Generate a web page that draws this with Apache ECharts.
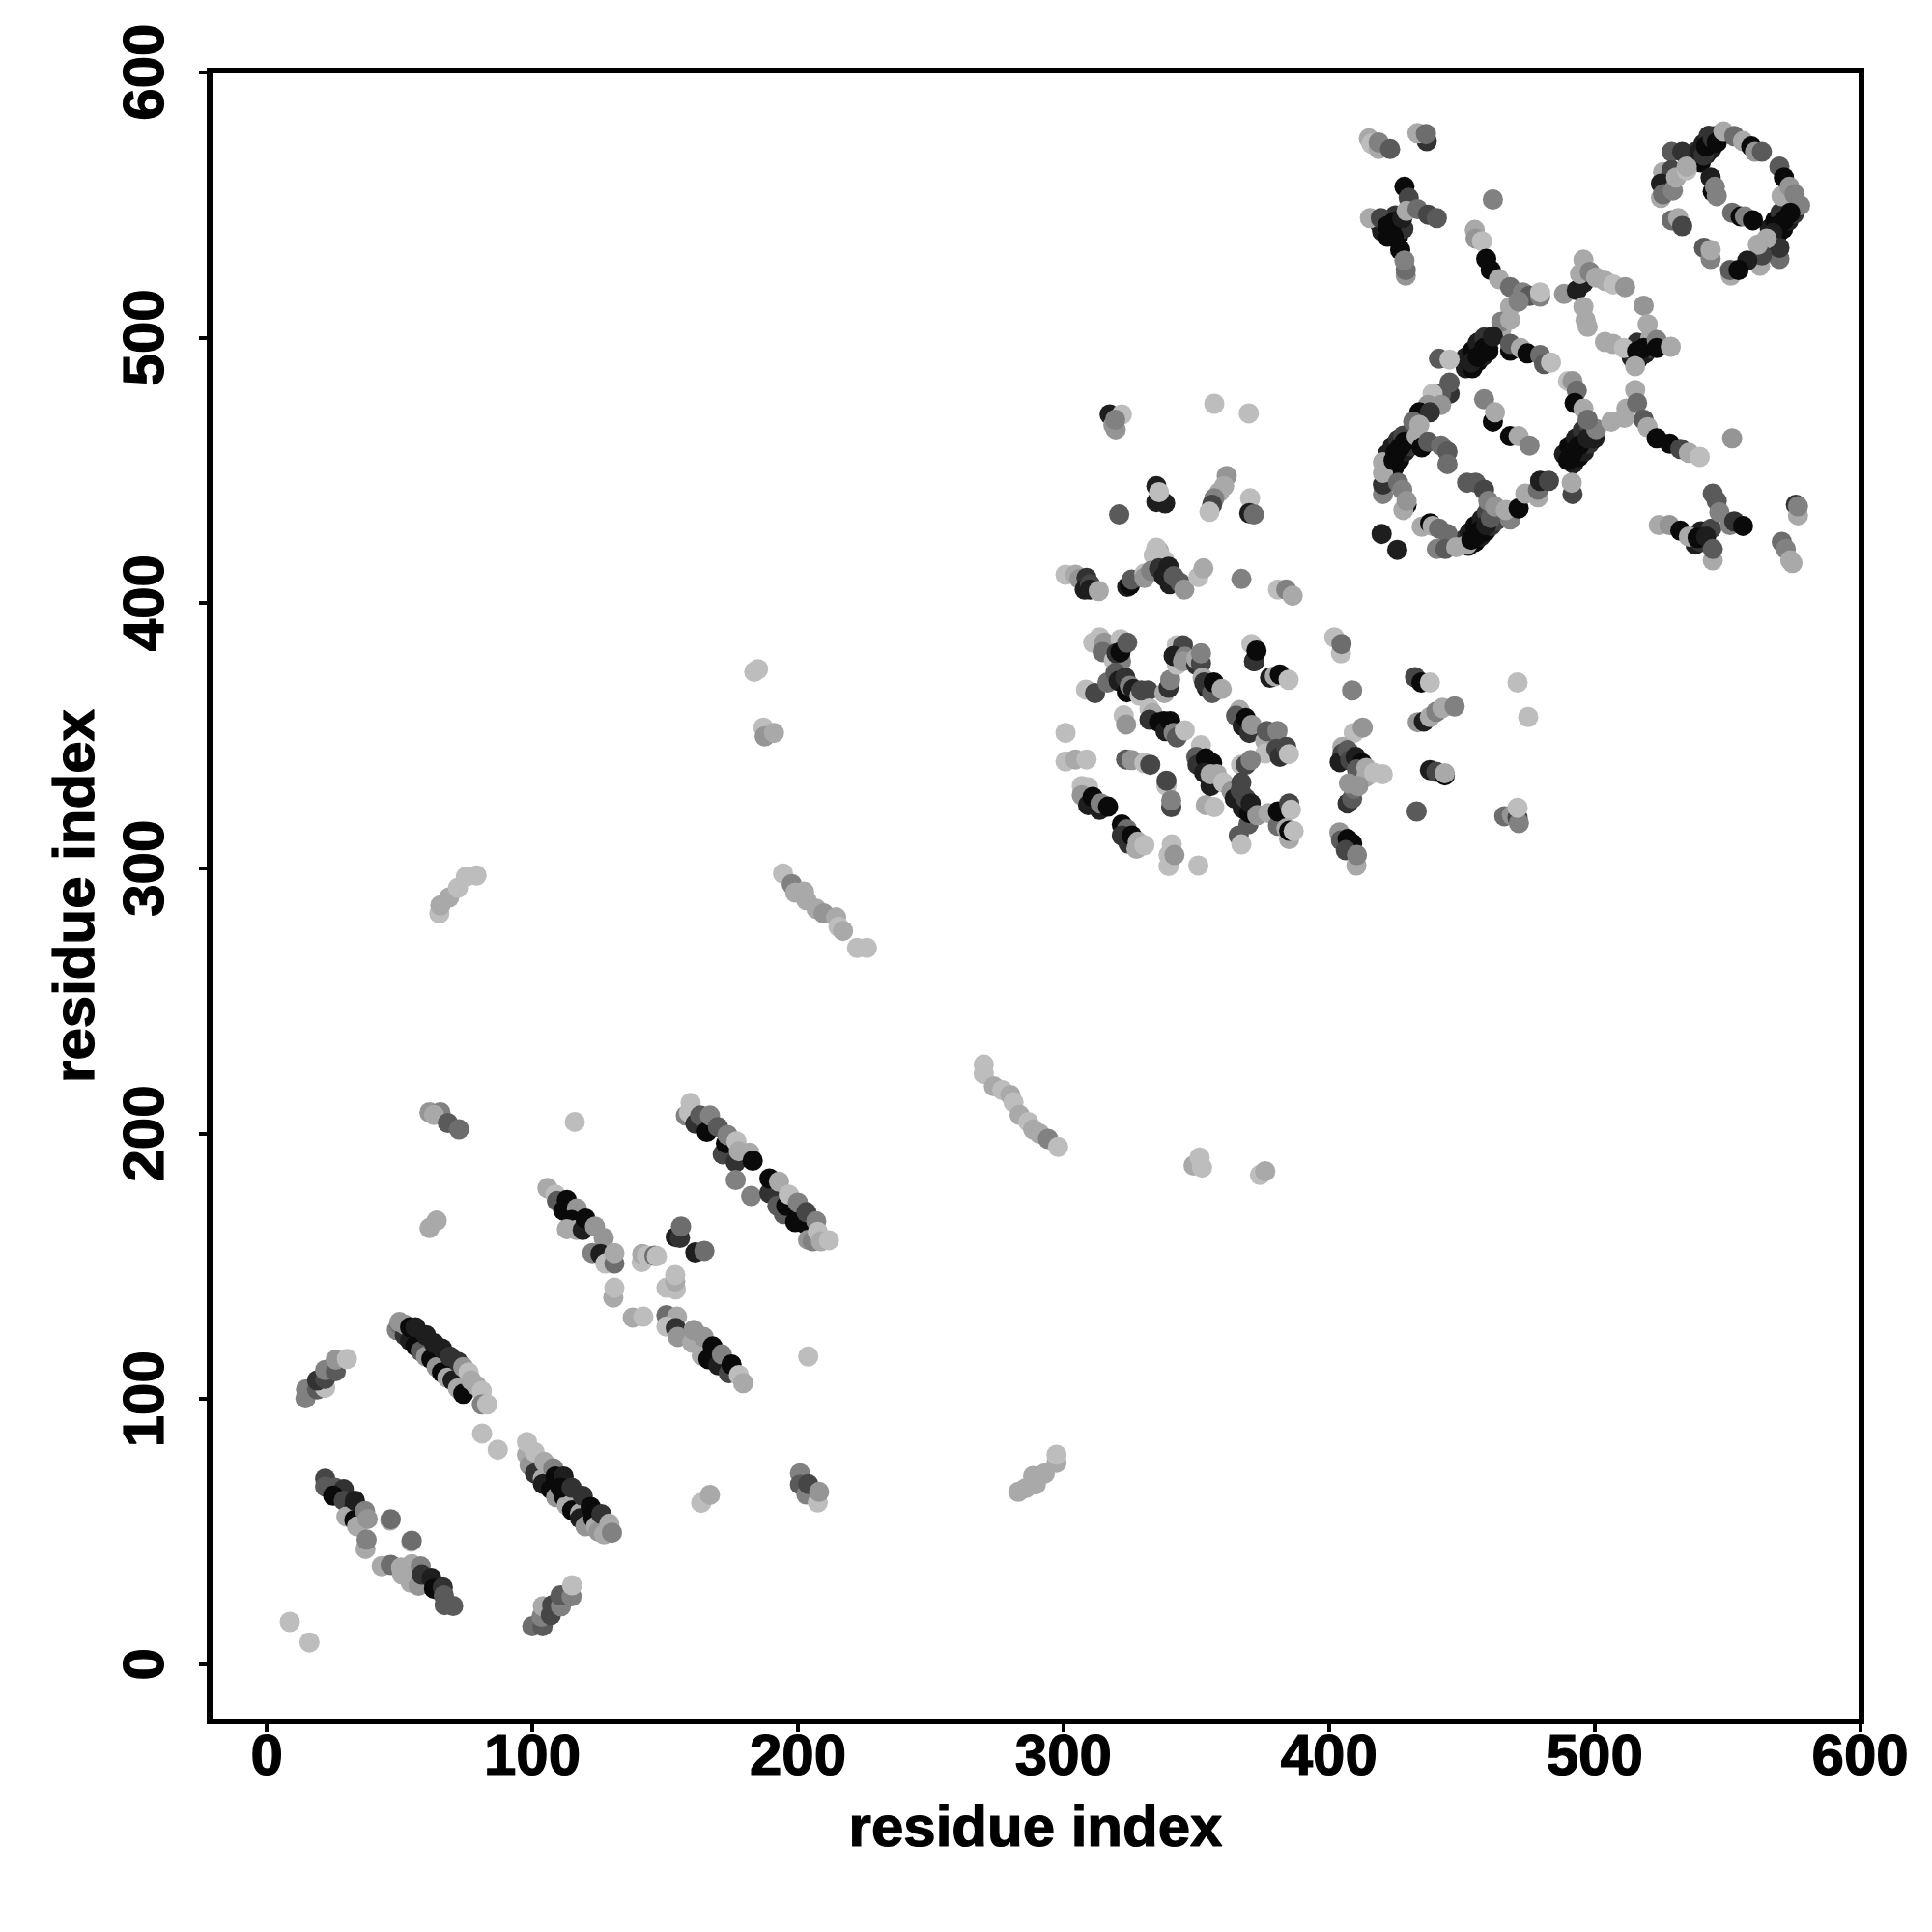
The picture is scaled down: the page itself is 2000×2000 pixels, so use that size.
<!DOCTYPE html>
<html><head><meta charset="utf-8">
<style>html,body{margin:0;padding:0;background:#fff}#c{width:2000px;height:2000px}</style>
<script src="https://cdn.jsdelivr.net/npm/echarts@6/dist/echarts.min.js"></script>
</head><body><div id="c"></div>
<script>
// [residue i, residue j, contact score 0 (weak) .. 9 (strong)]
const tickValues=[0,100,200,300,400,500,600];
const axisTitle="residue index";
const denseRidges=[[492,452.5,8],[494,455,9],[496,457,8],[498,460,7],[500,462,8],[488.5,456,8],[490.5,459,9],[493,462,8],[495.5,465,7],[498,467,6],[452.5,421.5,8],[455,423,9],[457,425,8],[459,427,9],[461,429,7],[463,431,6],[451,424,7],[453,426.5,8],[455,429,9],[457.5,431.5,8],[459.5,434,6],[422.5,451.5,8],[424.5,451,9],[426.5,454,9],[428.5,457,8],[430.5,459,7],[422,456,8],[424,459,8],[426,461.5,7],[428,463,6],[451.5,488.5,8],[454,488.5,9],[456,491,9],[458,493,8],[460,496,7],[451.5,492.5,8],[454,495,9],[456,498,8],[458.5,500,7],[514,492.5,8],[516.5,492,9],[519,494,8],[521,496,6],[513.5,495,7],[516,498,7],[566,537,8],[568.5,538,8],[571,541,9],[573,544,8],[575,546.5,7],[566,541,8],[568,544,9],[570,547,7],[537.5,566.5,8],[540,566,9],[542,569,8],[544,571,8],[546,576,7],[538,570,7],[541,573,8],[543,576,7],[420,540,8],[422,538,9],[424,541,8],[426,538,9],[419,543,8],[425,546,7],[426,542,9],[428,541,7],[538,422,8],[540,423,7],[542,427,8],[540,427,8],[544,428,6],[55,124,8],[58,122,9],[61,119,8],[64,116,9],[67,114,8],[70,111,9],[112,67,8],[115,63,9],[118,60,8],[121,57,9]];
const isolated=[[8.7,16,0],[16.1,8.3,0],[81.1,87,0],[87,80.9,0],[203.9,116,0],[116,204.4,0],[349,188,1],[351.3,191,0],[352.2,187.2,0],[374,184.4,0],[376,185.8,1],[471,370,0],[475,357,0],[356.8,475,0],[369.8,471.4,0],[321,433.3,5],[433,321.4,5],[461.7,552,3],[551.8,462,2],[419.8,426,8],[425.7,420,8]];
const stripeA=[[49,126,3],[50,128,4],[52,124,7],[54,122,8],[56,120,9],[58,118,5],[60,116,2],[62,115,9],[64,112,2],[66,110,9],[68,108,1],[70,107,8],[72,104,1],[74,102,9],[50,129,2],[52,128,2],[54,127,9],[56,127,8],[60,124,8],[63,121,8],[66,119,8],[69,116,7],[72,114,7],[74,112,2],[76,110,0],[77,107,1],[79,105,1],[81,103,0],[81,98,3],[83,98,0]];
const stripeB=[[14.6,100.3,3],[14.8,103.6,3],[19,103.6,5],[22,104.2,0],[19,107,7],[22,107.6,6],[22,110.9,3],[26,110.5,5],[26,114.8,2],[30.2,115.1,0]];
const stripeC=[[22,70,6],[22,67,5],[25.7,66.6,5],[29,66,7],[25,63.6,9],[29,61.7,6],[33,59.3,8],[30,55.7,1],[33,54.4,9],[34,52,1],[33.2,61.7,8],[37,57.8,3],[38,54.8,2],[46.5,54.2,1],[46.7,54.7,4],[54.4,46.2,0],[54.6,46.6,4],[37.2,43.5,1],[37.6,47,3]];
const stripeD=[[43.3,37,1],[46.7,37.5,4],[50.6,36.5,1],[51,33.8,1],[54.6,37.7,1],[54.2,30.8,1],[58,36.9,3],[57.2,29.6,2],[58.4,33.8,7],[62,32.6,8],[63,28.5,9],[66.3,29,7],[66.7,26,5],[67,22.3,5],[70.2,22,5]];
const stripeE=[[100,14.4,4],[103.9,14.4,5],[103.5,18,3],[104,21.9,1],[107,18.6,6],[107.5,22.3,6],[110.8,21.9,3],[110.6,26,5],[114.8,25.6,3],[115,29.8,0]];
const stripeF=[[98,79,1],[99,75,2],[101,72,7],[104,70,1],[104,68,8],[107,66,9],[109,63,2],[112,63,9],[113,60,1],[115,58,9],[118,57,1],[118,55,8],[120,52,2],[123,55,9],[124,52,1],[125,50,2],[127,49,1],[98,83.8,0],[100.9,80,0],[104.5,76.3,1],[107.9,73.9,3],[108.7,70.8,9],[111.8,70.8,8],[110.6,66.6,9],[114.8,66.6,7],[119,63.5,7],[122,59.3,9],[126,56.6,7],[129,53,1],[130,49.6,3]];
const stripeG=[[105.7,179.5,1],[108.7,177,0],[109.3,174.6,5],[113,175,9],[111.7,171,9],[116.8,171.8,2],[114.8,167.4,9],[113,164,1],[116.6,163.7,1],[119,163.7,8],[120,168,9],[123.6,165,2],[126.9,160.7,2],[122.6,155,3],[125.7,154.6,8],[127.5,151,0],[130.9,151,4],[130.9,155,1],[130.5,138.2,1],[130.9,141.9,0],[137.8,130.7,1],[141.8,131,0]];
const crossMid=[[141.2,151.6,0],[141.4,154.6,1],[143.2,154,0],[146,154,4],[146.9,153.8,0],[154,161,8],[155.6,160.7,7],[156,165,4],[161.4,155.2,8],[164.8,155.8,4],[150.5,141.9,0],[154,141.3,0],[153.8,144.3,1],[153.8,146.7,0]];
const stripeH=[[150.5,131.6,4],[154.5,131,1],[150.5,127.3,0],[154,126.7,7],[154.8,123.4,2],[160.2,121.2,1],[160.8,126,2],[163.8,116.4,1],[164.5,123.4,2],[166.3,115,9],[167.9,119.8,9],[170,112.7,8],[171.4,116.8,3],[174,109.7,6],[175,113,9],[177.8,109,0],[179.4,106,1]];
const stripeI=[[157.8,206.8,3],[159,208,0],[159.6,211.6,0],[161.4,203.7,7],[163.2,206.8,5],[165.7,200.7,9],[166.9,206.8,3],[169.9,202.5,5],[171.7,192.2,6],[172.9,196.4,9],[173.5,199.5,3],[176.6,189.2,7],[176.9,197,0],[177.8,193.4,1],[181.8,192.8,1],[183,189.8,9],[176.6,182.5,3],[182.4,176.5,3],[189.3,177.6,7],[189.3,183.1,9],[194.7,169.7,5],[192.3,172.8,5],[192.9,181.9,1],[195.6,172.8,9],[196.6,177,0],[199,166.7,9],[200,174,3],[202.6,166,9],[203.2,170.4,6],[203.8,160,2],[205.6,159.4,3],[206.9,167,3],[207.5,163,0],[208.7,159.4,1],[211.7,159.8,0]];
const smallLow=[[163.6,60.9,0],[166.9,63.9,1],[200.8,72,3],[200.8,67.8,5],[203.2,64,3],[203.9,68,6],[207.5,61,0],[208,65,2],[283,65,1],[285.8,66.4,1],[289.6,67.8,1],[288.6,71,1],[293,72,1],[297.4,76,1],[297.4,79,0]];
const smallUp=[[65,283,0],[65.4,286,1],[68.7,289,1],[72,292.6,0],[75,296.8,0],[79,297.3,0],[61.3,208,2],[65.4,208,3],[63,207,1],[68.2,204,5],[72.4,201.6,4],[61.3,164.4,1],[64,167.2,1],[183.6,374,0],[185,375,0],[187,353,0],[187.5,349.7,2],[191,351,1]];
const stripeJ=[[194.4,298,0],[197.7,294,3],[199,290.8,1],[202.3,291.2,1],[203.2,288,1],[207,284.7,1],[209.7,283,2],[214.4,281.5,1],[215.3,278,0],[217,276.4,1],[222.3,270,0],[226,270,0]];
const stripeK=[[270,226,0],[270,222.5,0],[273.8,217.8,1],[277,216.4,0],[280,214.6,1],[281.2,211.8,0],[283.5,207,1],[286.8,204.4,0],[288.6,201.6,1],[291,200,1],[294.2,198,3],[298,195,0]];
const mid410=[[300.8,410.6,0],[304.5,410.6,1],[306,409,2],[308.7,409.4,7],[308,405,8],[310,407,6],[310,405,8],[313.3,404.5,1],[324,406,8],[325,406.6,9],[325.7,408.8,5],[330.5,411,0],[330.5,409.4,2],[334,418,0],[336,419.5,1],[338,416,0],[333,412,3],[336.4,417.6,0],[335,420.8,0],[336,413,7],[339.6,413.6,8],[337.8,410,8],[340,407,8],[341.5,410,5],[343.9,407.6,5],[345.5,405,2],[350.8,409.7,0],[352.7,413,1],[367,409,3],[380.8,405,0],[383.9,405,3],[386.3,402.7,1]];
const mid385=[[311.2,385,0],[313.6,387,0],[315.4,385,2],[314.8,381.5,4],[321.5,386.3,0],[319,378.4,0],[321.7,378,3],[320,381,7],[321.5,381.5,9],[324,385,5],[308.5,367.3,0],[311.9,366,6],[316.6,370,4],[319.6,373.6,5],[320.8,370.6,8],[323.3,371.8,7],[323.9,366.3,9],[325,368.7,3],[326.3,367.5,8],[328.7,365,0],[329.3,367,6],[331.8,367,6],[338,366,1],[339.6,368,7],[340.2,371,3]];
const mid375=[[342.7,376.6,0],[342.7,384,0],[345,384,6],[341.5,380,8],[345.7,379.7,3],[345,378,2],[350,376.6,7],[350,379,1],[351.8,377.2,6],[351.8,381,3],[352.4,371.8,1],[354,368,8],[353,370,7],[356,366,5],[356.6,370,9],[359.6,367.5,1],[370.8,384.5,0],[371.8,378,9],[371.8,378,7],[372.7,382,9],[377.8,371.8,8],[379.6,372.4,1],[381.5,373,9],[384.8,371,0],[402,387,0],[404.5,381,0],[404.7,384.5,4],[408.7,367,3],[409.3,351,0],[412.7,353,2],[432.4,372,6],[434.8,370,9],[438,370,0]];
const mid345=[[300.8,351,0],[300.8,340.2,0],[304.5,341,1],[308.7,341,0],[322.7,357.6,0],[323.6,354.2,2],[323.6,341,5],[325.7,340.8,2],[330.5,339.6,0],[332.7,339,6],[338.8,331,0],[338.8,333,6],[340.6,323,6],[340.6,325.6,3],[353.6,323.8,1],[356.8,323,0],[340.8,309,0],[339.6,300.8,0],[339.6,305,0],[341.8,305,2],[350.8,301,0]];
const mid325=[[306.9,331,0],[309.3,330.5,0],[306.9,327.5,2],[309.3,323.8,8],[311,326.9,9],[313.6,322,8],[314,324.4,3],[316.8,323.2,9],[322,316.5,9],[323.9,314.7,4],[322,312.3,7],[324.5,309.3,7],[325.7,312.3,9],[328,310,1],[327.5,307.4,1],[330.5,308.7,0]];
const mid355=[[332.4,360.2,0],[333.6,358.4,1],[332.4,356,7],[336,355,9],[337.8,355.4,9],[338.4,351.7,8],[340.2,355.4,9],[341.5,351,3],[342.7,349.3,5],[345.7,352,0],[366.3,359.6,1],[365,357.5,5],[367.5,353.6,8],[368.7,356.6,9],[370,351,7],[370.9,354,2],[376,348,1],[376,343.2,0],[376.6,351.7,5],[380.6,351.7,3],[380.2,345,6],[381.5,342,7],[383.9,345.7,6],[384.9,343,0]];
const mid340=[[351.8,346.3,0],[350,342,5],[350.5,339,7],[353.6,341.4,9],[356,339.6,9],[353,336,8],[355.4,331,8],[355.4,335.4,1],[357.8,335.4,1],[360.2,332.3,0],[366.9,339,0],[368.7,339,6],[370.5,340.8,3]];
const mid325b=[[363.3,329,2],[364.5,326.3,8],[366.7,329.3,6],[367,332.3,6],[369.7,316.6,5],[367.5,322.6,8],[368.7,326.3,6],[370,320.8,9],[370.5,324.4,8],[373,320,2],[377.2,320.8,1],[380.8,316,4],[380.8,321.4,9],[385,324.4,6],[385.7,322,0],[384,315,1],[385,311,1],[385,314.1,9],[386.7,314,0],[366,312.3,5],[367,309,0]];
const mid340r=[[405,345.7,1],[405,343.2,6],[404,340,8],[407,344.5,5],[408,340.8,6],[410,342,8],[412.4,339.6,9],[410.5,337.2,5],[414,337.8,1],[414,334.5,1],[417,336,0],[420.2,335.4,0],[407,324.4,7],[408.7,326.3,5],[409.3,329.9,4],[407.5,332,2],[411,331,2]];
const mid310r=[[403.9,313.5,2],[404.5,310.5,5],[407,311,9],[408.7,309.3,9],[406.3,306.8,6],[410.3,301,1],[410.5,305,3]];
const mid355r=[[433.4,355,2],[435.7,355.3,8],[438,357,1],[440.4,359,3],[442.7,360.4,1],[447.3,361,3],[438,337,8],[440.4,336.3,6],[443.6,335,9],[443.6,335.8,1],[466,319.6,4],[468.9,320,2],[471,319,6],[471.5,317,3],[471,322.8,0]];
const mid440=[[317.4,471,8],[318.8,467,2],[319.7,465.4,2],[322,471,0],[319.5,469,3],[335,444,8],[335,438,8],[338.3,437.5,8],[336,441.7,0],[361.5,447.8,2],[360.5,444,1],[358.7,441.7,1],[356.8,439.4,3],[356,437,6],[355,434.3,0],[370.3,439.4,0],[370,433.8,8],[371.7,433.3,4]];
const ringTop=[[529,570,5],[533,570,7],[525.8,562.3,1],[529,563,6],[525,558,8],[525,552.6,1],[525.8,554,4],[529.5,555.4,3],[530.7,560.3,1],[534.7,563,0],[534.7,564.4,1],[539.6,570,8],[541,568.6,7],[542,572,9],[544.5,575,7],[546,573.5,9],[548.5,577.7,1],[552.6,575.9,4],[555.9,574,1],[559,572,9],[560.4,570,2],[563,570,5]];
const ringRight=[[569.6,564.4,5],[571.3,560.3,9],[570.4,553.3,1],[573.4,556.8,2],[575.3,554,3],[577.4,549.8,3],[573.7,547,9],[571.3,544.2,9],[568.8,542,9],[567,539.4,8],[569.6,529.6,4],[569.6,533.8,7],[564.8,537.3,1],[562.3,527,1],[563,531,6],[561.5,535,1],[557.5,529,8],[551.3,523.3,1],[551,525.4,5],[554.2,525.4,9]];
const ringInner=[[543.7,560.3,8],[544.5,555,9],[545.3,556.8,3],[546,553.3,3],[551.8,547,4],[555,545.6,9],[556.6,545.6,3],[559.6,544.2,9],[529,544.2,4],[531.5,545,1],[533,542,6],[541.2,533.8,5],[543.7,529.6,3],[543.7,533,1]];
const crossTop=[[415,575,1],[416,573,0],[418.7,571,1],[418.7,573.5,3],[423,571,5],[436.8,574,7],[433.3,577,1],[436.5,576.7,4],[415.4,545,1],[419.5,545,6],[422,542,9],[424.3,543.5,9],[427.6,545,8],[428.4,556.8,9],[430,552.6,6],[429.2,547.7,1],[433.3,548.4,4],[437.3,546.3,6],[440.6,545,5],[424.3,538,9],[426.8,533,9],[428.9,523.3,2],[428.9,525.4,4],[428.4,529,3]];
const stripeL=[[454.9,540.5,1],[455.2,537.3,2],[457.6,536.3,0],[459.2,529.6,9],[460.9,525.4,9],[464,522,1],[468.2,519,4],[473,517,3],[475.5,515.7,5],[479.5,515.4,3],[479.5,517,0],[488.5,516.4,2],[493.3,517.8,8],[495.8,520.6,8],[494.5,524,1],[495.8,529.3,1],[498.2,524.7,3],[500.6,522.6,1],[504,521.3,1],[507,520,0],[511.5,519,2]];
const stripeM=[[518.5,512,2],[495.8,511.5,1],[496.6,506.6,1],[497.4,504,1],[503.9,498.3,1],[507,497.6,1],[511,496,0],[520,505,1],[521,500,1],[516,494.8,9],[515.3,489.2,1],[518.5,496,9],[523.4,499,3],[523.4,496,9],[528.7,496.5,1]];
const centerCross=[[468.2,511.5,1],[471.4,513.6,3],[464.9,503,1],[464.9,506,3],[468.2,506.7,1],[453.6,490.6,8],[456,492.7,9],[458.4,496,9],[460,494.8,9],[461.7,500.4,8],[468.2,495,9],[468.2,497.6,5],[472.2,496,1],[474.7,494,9],[479.5,493.4,4],[481,490,5],[483.6,490.6,0],[441.4,492,5],[445.4,491.7,0]];
const lowerRingL=[[445.4,478.8,7],[445.4,483,5],[442.2,478.8,5],[439,478.8,0],[442.2,474.6,2],[437.3,474.6,2],[434,471.8,9],[438,471.8,7],[431.7,468.3,4],[434,467,1],[420.3,441,3],[420.3,444.6,7],[420.3,449,1],[420.3,453,1],[424.3,453.7,9],[425,456.5,9],[426.8,458.6,9],[428.4,460.7,9],[433,462.8,1],[434.9,458.6,9],[437.3,460.7,5],[442.2,459.3,4],[444.6,457,5],[444.6,452.3,4],[426,445.3,4],[427.6,442.6,3],[429.2,437,9],[428,435,1],[429.2,438.4,2]];
const lowerRingB=[[434.9,428.7,1],[438.1,430,9],[439,429,1],[441.4,428,4],[444.6,426,4],[440.6,420.3,3],[443.8,420.3,5],[447.9,421,1],[452,422,1],[453.6,423.8,9],[455.2,425,9],[456.8,427.2,9],[459.2,429.3,8],[460.9,432,5],[452,445.3,5],[455.2,445.3,5],[458.4,442.6,6],[460,438.4,3],[462.5,436.3,2],[468.2,431.4,3],[466.6,435,1],[471.4,435.6,9],[473.9,441.2,1],[478.7,439.8,1],[478.7,442.6,4],[479.5,446,8],[482.8,446,6],[491.7,441,6],[491.4,445.3,1]];
const centerLow=[[490,453.7,9],[491.7,456.5,9],[494.2,459.3,9],[497.4,462,8],[500.6,465.5,3],[506.3,468.3,1],[511.2,469.7,1],[490,483.6,0],[491.7,483.6,2],[493.3,480,4],[492.5,475.3,9],[495.8,473.2,1],[497.4,469,4],[458.4,476.7,3],[461.7,468.3,9],[462.5,471.8,1],[468.2,462.8,9],[471.4,462.8,1],[475.5,459.3,3]];
const rightArm=[[512,473.2,1],[515.3,480.2,1],[516,475.3,4],[518.5,469,5],[520,466.2,1],[523.4,462,9],[528.3,460,9],[532.3,458,6],[535.5,456.5,1],[539.6,455,0],[524.2,429.3,1],[528.2,429.3,2],[532.3,427.2,9],[535.5,425,1],[538.8,424.5,9],[542,425,8],[544.5,416,1],[544.5,420.3,5],[544.5,441.2,5],[546,438.4,5],[547,434.2,3],[551,429.3,3],[552.6,430.7,7],[555.9,429,9],[575.8,437,7],[576.6,433,1],[576.6,436.4,3],[570.5,423,4],[572,420.3,3],[573.7,416,1],[574.5,415,1]];

const allPoints=[].concat(denseRidges,isolated,stripeA,stripeB,stripeC,stripeD,stripeE,stripeF,stripeG,crossMid,stripeH,stripeI,smallLow,smallUp,stripeJ,stripeK,mid410,mid385,mid375,mid345,mid325,mid355,mid340,mid325b,mid340r,mid310r,mid355r,mid440,ringTop,ringRight,ringInner,crossTop,stripeL,stripeM,centerCross,lowerRingL,lowerRingB,centerLow,rightArm);

const font='"Liberation Sans",Arial,sans-serif';
const heavyText={fontFamily:font,fontWeight:'bold',fontSize:60,color:'#000',textBorderColor:'#000',textBorderWidth:1.2};
function axis(extra){
  return Object.assign({
    type:'value',name:axisTitle,nameLocation:'middle',
    nameTextStyle:heavyText,
    axisLine:{show:false,onZero:false},splitLine:{show:false},
    axisTick:{show:true,length:11,lineStyle:{color:'#000',width:4},customValues:tickValues},
  },extra);
}
const chart=echarts.init(document.getElementById('c'),null,{renderer:'canvas'});
chart.setOption({
  animation:false,backgroundColor:'#fff',
  grid:{left:217,right:73,top:73,bottom:218,show:true,borderColor:'#000',borderWidth:6,backgroundColor:'transparent'},
  xAxis:axis({min:-21.5,max:600.5,nameGap:82,
    axisLabel:Object.assign({customValues:tickValues,formatter:v=>String(v),margin:8},heavyText)}),
  yAxis:axis({min:-21.5,max:600.6,nameGap:107,
    axisLabel:Object.assign({customValues:tickValues,formatter:v=>String(v),rotate:90,margin:35},heavyText)}),
  visualMap:{show:false,type:'continuous',dimension:2,min:0,max:9,seriesIndex:0,inRange:{color:['#bdbdbd','#0a0a0a']}},
  series:[{type:'scatter',data:allPoints,symbol:'circle',symbolSize:21,itemStyle:{opacity:1},silent:true,clip:false}]
});
</script></body></html>
